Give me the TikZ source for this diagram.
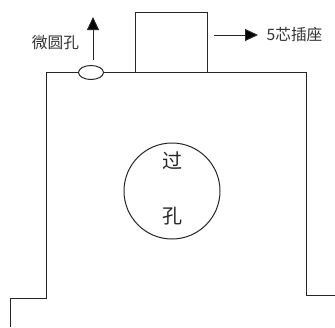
\documentclass[tikz,border=0pt]{standalone}
\usepackage{fontspec}
\setmainfont{Noto Sans CJK SC}
\usetikzlibrary{arrows.meta,shapes.geometric}
\definecolor{ink}{gray}{0.15}
\tikzset{
  x=1pt,y=-1pt,
  outline/.style={draw=ink,line width=1pt,line join=miter},
  pointer/.style={draw=ink,line width=1pt,-{Triangle[length=13pt,width=12pt,fill=black]}},
  lbl/.style={inner sep=0pt,text=black!80,font=\fontsize{15.7}{16}\selectfont},
  bigl/.style={inner sep=0pt,text=black!85,font=\fontsize{20}{20}\selectfont}
}
\begin{document}
\begin{tikzpicture}
\useasboundingbox (0,0) rectangle (335,327);
\node[outline,ellipse,minimum width=25pt,minimum height=14pt,inner sep=0pt] (hole) at (91,72.5) {};
\node[outline,rectangle,minimum width=72pt,minimum height=60pt,inner sep=0pt] (socket) at (171,42.5) {};
\node[outline,circle,minimum size=96pt,inner sep=0pt] (via) at (172,191) {};
\coordinate (a0) at (10,327);
\coordinate (a1) at (10,298.5);
\coordinate (a2) at (46.5,298.5);
\coordinate (a3) at (46.5,72.5);
\coordinate (b1) at (306,72.5);
\coordinate (b2) at (306,295);
\coordinate (b3) at (335,295);
\draw[outline] (a0) -- (a1) -- (a2) -- (a3) -- (hole.west);
\draw[outline] (hole.east) -- (b1) -- (b2) -- (b3);
\coordinate (upTip) at (93,17);
\coordinate (upStart) at (93,60);
\coordinate (rStart) at (214,35);
\coordinate (rTip) at (258,35);
\draw[pointer] (upStart) -- (upTip);
\draw[pointer] (rStart) -- (rTip);
\node[lbl] (t1) at (55.5,42.5) {微圆孔};
\node[lbl] (t2) at (294.5,34) {5芯插座};
\node[bigl] (t3) at (172,161) {过};
\node[bigl] (t4) at (172,216) {孔};
\end{tikzpicture}
\end{document}
